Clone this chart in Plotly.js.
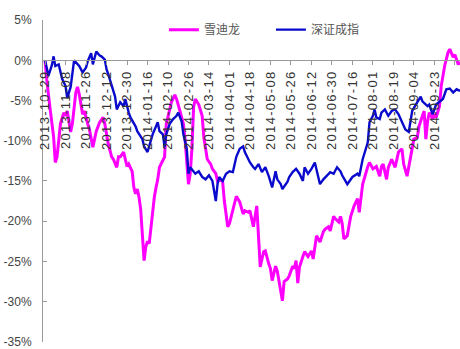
<!DOCTYPE html>
<html>
<head>
<meta charset="utf-8">
<script src="https://cdn.plot.ly/plotly-3.0.1.min.js"></script>
<style>
html,body{margin:0;padding:0;background:#fff;}
#chart{width:460px;height:349px;}
#chart .xtick text{letter-spacing:1.3px;}
</style>
</head>
<body>
<div id="chart"></div>
<script>
// Trading-day index of each tick label
var tickDays = [0,12,24,36,48,60,72,84,96,108,120,132,144,156,168,180,192,204,216,228,240];
var tickLabels = ["2013-10-29","2013-11-08","2013-11-26","2013-12-12","2013-12-30","2014-01-16","2014-02-10","2014-02-26","2014-03-14","2014-04-01","2014-04-18","2014-05-08","2014-05-26","2014-06-12","2014-06-30","2014-07-16","2014-08-01","2014-08-19","2014-09-04","2014-09-23","2014-10-16"];

// 雪迪龙 cumulative return (%), by trading-day index
var xdlDays = [0,1,3,5,6,7,8,9,11,12,13,15,16,17,18,19,20,22,23,25,26,28,29,30,32,34,35,37,39,40,42,43,44,46,47,48,49,51,52,53,54,55,56,57,58,59,60,61,62,63,64,65,66,67,68,69,70,71,72,73,74,76,77,79,81,82,83,84,85,86,87,88,90,92,93,95,97,98,100,101,102,104,105,107,108,110,112,114,116,117,119,120,122,124,125,126,128,129,131,132,133,135,136,137,139,140,142,143,145,146,147,148,149,151,152,154,156,157,158,159,161,163,164,166,167,169,170,172,173,174,175,177,178,179,181,183,184,185,186,189,190,192,194,196,197,198,200,201,203,205,206,207,209,210,212,213,215,216,218,219,221,222,223,224,225,227,228,229,231,232,234,236,237,239,240,242,243];
var xdlVals = [0.0,-2.4,-6.1,-9.5,-12.7,-12.0,-10.0,-7.9,-6.5,-6.9,-6.3,-8.9,-7.9,-6.3,-4.0,-3.3,-4.2,-6.7,-6.3,-7.9,-8.6,-10.8,-9.6,-8.8,-7.7,-7.1,-7.9,-10.4,-12.0,-12.3,-13.3,-12.0,-12.0,-11.4,-12.3,-13.2,-12.9,-13.8,-15.8,-16.6,-16.0,-17.0,-18.5,-21.2,-24.9,-23.2,-22.5,-22.8,-21.0,-18.5,-17.0,-15.8,-14.8,-13.3,-12.9,-12.5,-12.0,-7.9,-7.1,-6.3,-5.2,-4.3,-4.8,-6.3,-7.9,-9.8,-12.3,-15.4,-14.1,-11.0,-5.8,-4.8,-5.5,-6.9,-9.6,-12.3,-12.9,-13.5,-14.1,-15.0,-14.8,-15.1,-17.5,-20.7,-20.3,-18.5,-16.9,-17.6,-19.1,-18.7,-18.9,-18.7,-20.7,-18.1,-21.8,-25.7,-23.8,-23.7,-25.3,-25.9,-27.4,-25.6,-26.2,-27.5,-29.9,-27.5,-27.2,-26.8,-25.6,-25.9,-24.9,-27.7,-25.7,-24.4,-23.8,-24.4,-23.7,-24.7,-23.1,-21.8,-22.6,-21.3,-21.0,-20.7,-21.2,-19.4,-19.7,-20.1,-19.4,-20.3,-22.2,-21.8,-20.6,-19.4,-18.1,-17.2,-18.9,-16.9,-15.4,-13.2,-12.7,-13.5,-13.2,-14.4,-13.2,-12.9,-14.8,-13.3,-12.3,-13.3,-12.5,-11.4,-11.0,-12.9,-14.4,-13.3,-11.0,-9.8,-9.6,-8.2,-6.9,-6.3,-9.8,-7.6,-6.5,-7.3,-6.7,-7.1,-5.7,-3.2,-0.7,1.0,1.4,0.4,0.7,-0.5,-0.2];

// 深证成指 cumulative return (%), by trading-day index
var szDays = [0,2,4,5,6,8,10,12,13,15,17,19,20,22,24,25,27,28,30,32,33,35,36,37,39,41,42,44,46,47,49,50,53,54,57,58,60,63,66,67,69,70,71,73,75,77,78,80,81,83,84,85,88,90,92,94,96,98,100,101,102,104,106,108,110,112,114,116,117,119,120,122,123,125,127,129,131,133,135,136,138,139,142,143,145,147,149,151,152,154,156,158,159,161,163,165,167,169,171,173,174,177,179,180,183,184,186,189,190,192,193,194,196,197,199,201,203,205,207,209,211,213,214,215,218,220,221,224,225,227,229,231,233,235,237,239,241,243];
var szVals = [0.0,-1.9,-0.6,0.5,-0.7,-0.5,-2.3,-3.2,-4.7,-3.3,0.0,-0.4,-0.7,-1.5,-0.9,-0.1,0.9,-0.5,1.1,0.6,0.5,0.1,-1.1,-1.7,-3.0,-4.5,-6.1,-5.2,-5.7,-4.8,-6.5,-7.1,-8.2,-8.8,-9.8,-10.7,-11.4,-9.2,-7.7,-8.8,-9.2,-10.8,-9.2,-7.9,-7.3,-6.9,-6.5,-7.6,-9.2,-11.0,-14.1,-13.3,-14.1,-13.8,-14.5,-14.8,-14.3,-15.0,-17.5,-15.4,-14.5,-15.0,-14.1,-13.8,-13.9,-12.0,-11.0,-10.7,-11.4,-12.3,-12.7,-13.3,-13.5,-12.9,-13.9,-13.3,-14.4,-15.8,-13.8,-14.8,-15.4,-16.0,-15.1,-14.5,-13.9,-13.5,-14.1,-15.0,-13.3,-14.1,-13.5,-12.7,-13.5,-15.4,-14.8,-14.4,-13.9,-14.1,-13.3,-13.8,-14.3,-15.4,-14.8,-14.5,-14.1,-14.4,-12.3,-10.2,-7.7,-6.9,-6.1,-7.1,-7.3,-6.5,-6.1,-6.9,-6.3,-6.1,-6.7,-7.6,-8.6,-8.9,-7.6,-6.3,-5.2,-4.5,-5.1,-5.7,-5.5,-6.7,-5.5,-5.2,-4.8,-3.6,-3.5,-4.0,-3.6,-3.8];

var yTicks = [5,0,-5,-10,-15,-20,-25,-30,-35];
var yTickLabels = ["5%","0%","-5%","-10%","-15%","-20%","-25%","-30%","-35%"];

var traces = [
  {x: xdlDays, y: xdlVals, name: "雪迪龙", type: "scatter", mode: "lines",
   line: {color: "#FF00FF", width: 3}},
  {x: szDays, y: szVals, name: "深证成指", type: "scatter", mode: "lines",
   line: {color: "#0A0ACC", width: 2.4}}
];

var layout = {
  width: 460, height: 349,
  margin: {l: 43, r: 0, t: 20, b: 7},
  paper_bgcolor: "#fff", plot_bgcolor: "#fff",
  font: {family: "Liberation Sans, Arial, sans-serif", color: "#333"},
  showlegend: true,
  legend: {orientation: "h", x: 0.29, xanchor: "left", y: 1.015, yanchor: "top",
           font: {family: "Noto Sans CJK SC, sans-serif", size: 12, color: "#555"},
           bgcolor: "rgba(0,0,0,0)", itemwidth: 30,
           entrywidth: 62, entrywidthmode: "pixels"},
  xaxis: {range: [-1.2, 243], tickvals: tickDays, ticktext: tickLabels,
          tickangle: -90, showgrid: false, zeroline: false,
          showline: true, linecolor: "#999", linewidth: 1,
          ticks: "outside", ticklen: 4, tickcolor: "#999",
          anchor: "free", position: 0.875, side: "bottom",
          tickfont: {size: 13, color: "#333"}},
  yaxis: {range: [-35.03, 5.02], tickvals: yTicks, ticktext: yTickLabels,
          showgrid: false, zeroline: false,
          showline: true, linecolor: "#999", linewidth: 1,
          ticks: "inside", ticklen: 4, tickcolor: "#999",
          ticklabelstandoff: 8,
          tickfont: {size: 12, color: "#444"}}
};

Plotly.newPlot("chart", traces, layout, {staticPlot: true, displayModeBar: false});
</script>
</body>
</html>
